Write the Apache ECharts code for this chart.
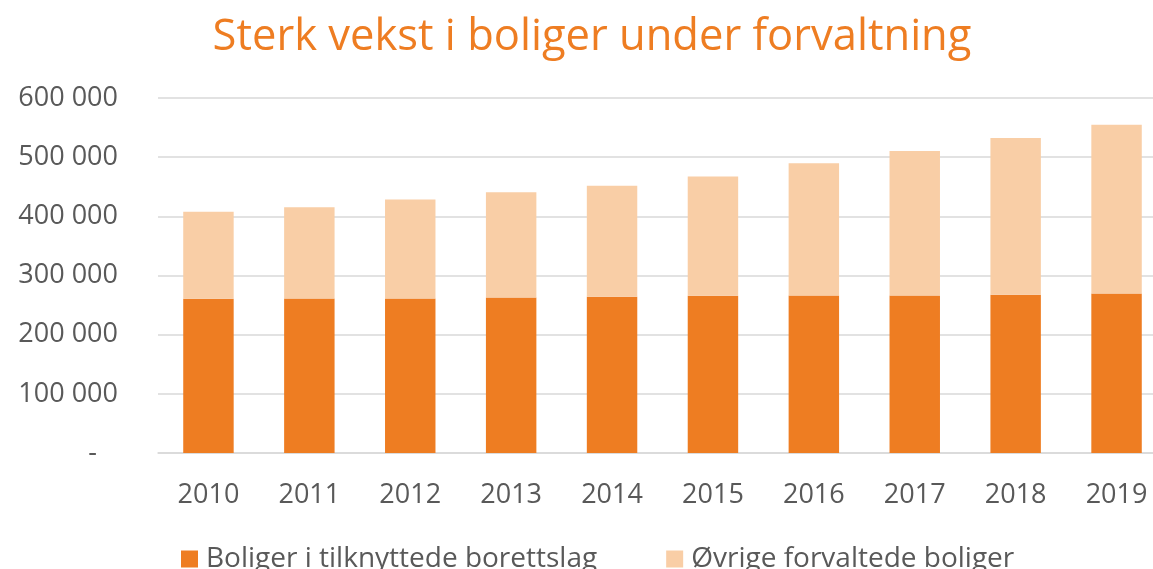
<!DOCTYPE html>
<html>
<head>
<meta charset="utf-8">
<title>Sterk vekst i boliger under forvaltning</title>
<script src="https://cdn.jsdelivr.net/npm/echarts@6/dist/echarts.min.js"></script>
<style>
  html, body { margin: 0; padding: 0; background: #fff; overflow: hidden; }
  /* plot runs past the right edge in the original, so the canvas is a bit wider than the window */
  #main { width: 1167px; height: 569px; }
</style>
</head>
<body>
<div id="main"></div>
<script>
// data
var years = ['2010', '2011', '2012', '2013', '2014', '2015', '2016', '2017', '2018', '2019'];
var borettslag = [260600, 261000, 261000, 262800, 264000, 265700, 266200, 266000, 267400, 269600];
var ovrige = [147000, 154500, 167400, 178100, 187500, 201500, 223600, 244600, 265200, 285400];
var yTicks = [0, 100000, 200000, 300000, 400000, 500000, 600000];

var chart = echarts.init(document.getElementById('main'), null, { renderer: 'canvas' });

var labelFont = '"Open Sans", sans-serif';
var grey = '#595959';

function fmt(v) {
  if (v === 0) return '-   ';
  return String(v).replace(/\B(?=(\d{3})+(?!\d))/g, ' ');
}

var option = {
  animation: false,
  color: ['#EE7D22', '#F9CEA6'],
  title: {
    text: 'Sterk vekst i boliger under forvaltning',
    left: 587,
    textAlign: 'center',
    top: 11,
    textStyle: {
      color: '#EE7D22',
      fontFamily: '"Open Sans", sans-serif',
      fontWeight: 'normal',
      fontSize: 43.5
    }
  },
  legend: {
    left: 176,
    top: 540,
    itemWidth: 17,
    itemHeight: 17,
    itemGap: 69,
    icon: 'rect',
    textStyle: { color: grey, fontFamily: labelFont, fontSize: 28, padding: [0, 0, 0, 3] },
    data: ['Boliger i tilknyttede borettslag', 'Øvrige forvaltede boliger']
  },
  grid: {
    left: 158,
    right: 0,
    top: 98,
    bottom: 116,
    containLabel: false
  },
  xAxis: {
    type: 'category',
    data: years,
    axisTick: { show: false },
    axisLine: { lineStyle: { color: '#D9D9D9', width: 1.5 } },
    axisLabel: { color: grey, fontFamily: labelFont, fontSize: 27, margin: 29 }
  },
  yAxis: {
    type: 'value',
    min: yTicks[0],
    max: yTicks[yTicks.length - 1],
    interval: yTicks[1] - yTicks[0],
    axisLine: { show: false },
    axisTick: { show: false },
    splitLine: { lineStyle: { color: '#D9D9D9', width: 1.5 } },
    axisLabel: {
      color: grey,
      fontFamily: labelFont,
      fontSize: 27,
      margin: 40,
      formatter: fmt
    }
  },
  series: [
    {
      name: 'Boliger i tilknyttede borettslag',
      type: 'bar',
      stack: 'total',
      barWidth: '50%',
      data: borettslag
    },
    {
      name: 'Øvrige forvaltede boliger',
      type: 'bar',
      stack: 'total',
      data: ovrige
    }
  ]
};

chart.setOption(option);
</script>
</body>
</html>
